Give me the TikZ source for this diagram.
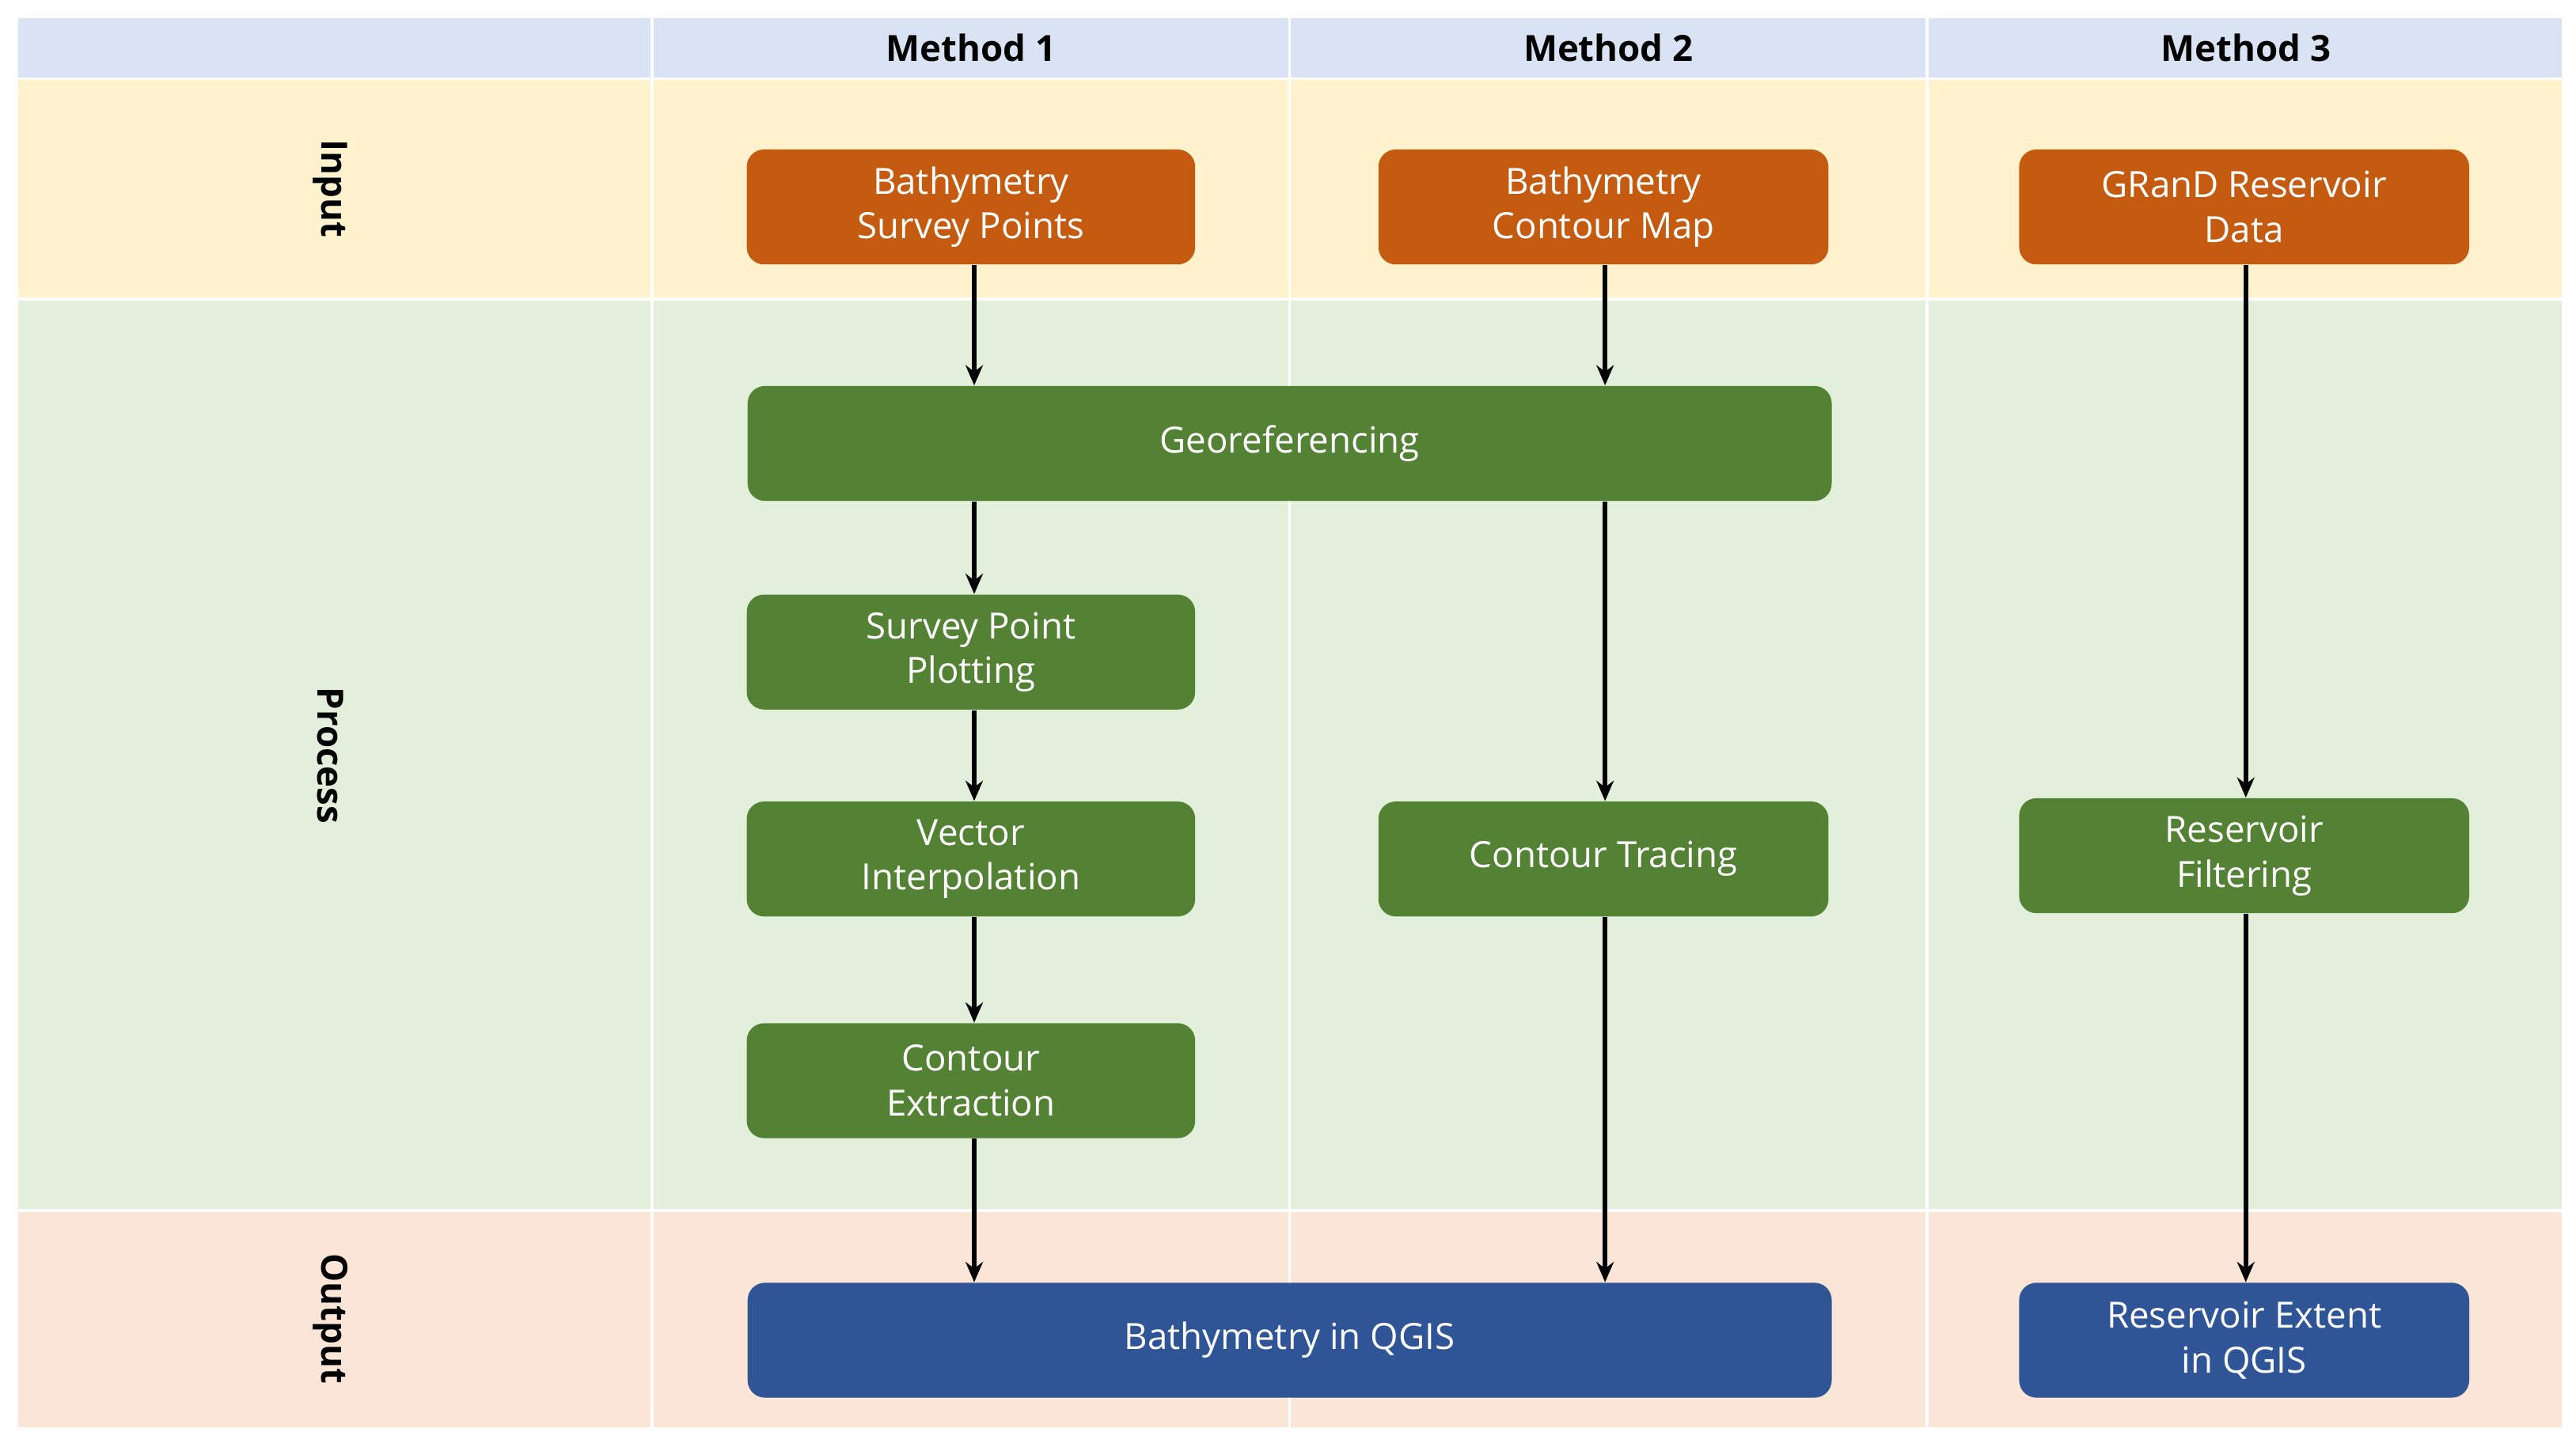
\documentclass[tikz,border=0pt]{standalone}
\usepackage{fontspec}
\setmainfont{Open Sans}
\usetikzlibrary{arrows.meta}
\definecolor{hdrblue}{HTML}{DAE3F3}
\definecolor{inyellow}{HTML}{FFF2CC}
\definecolor{procgreen}{HTML}{E2EFDA}
\definecolor{outpeach}{HTML}{FBE5D6}
\definecolor{boxorange}{HTML}{C55A11}
\definecolor{boxgreen}{HTML}{548235}
\definecolor{boxblue}{HTML}{2F5597}
\begin{document}
\begin{tikzpicture}[x=0.02cm,y=-0.02cm,
    flow/.style={-{Stealth[length=7pt,width=6pt]},line width=1.6pt,black},
    cell/.style={draw=white,line width=1pt},
    box/.style={rounded corners=6pt,text=white,align=center,inner sep=0pt,
        font=\fontsize{12.5}{15.5}\selectfont},
    input box/.style={box,fill=boxorange},
    process box/.style={box,fill=boxgreen},
    output box/.style={box,fill=boxblue},
    rowlabel/.style={rotate=-90,font=\bfseries\fontsize{12.5}{15}\selectfont},
    colhead/.style={font=\bfseries\fontsize{12.5}{15}\selectfont}]
    \useasboundingbox[fill=white] (0,0) rectangle (1568,883);

    % Background grid of lanes
    \foreach \xa/\xb in {10/397,397/785,785/1173,1173/1560}{
        \fill[hdrblue,cell] (\xa,10) rectangle (\xb,48);
        \fill[inyellow,cell] (\xa,48) rectangle (\xb,182);
        \fill[procgreen,cell] (\xa,182) rectangle (\xb,737);
        \fill[outpeach,cell] (\xa,737) rectangle (\xb,870);
    }

    % Column and row labels
    \node[colhead] (h1) at (591,29) {Method 1};
    \node[colhead] (h2) at (979,29) {Method 2};
    \node[colhead] (h3) at (1367,29) {Method 3};
    \node[rowlabel] (lin) at (201,115) {Input};
    \node[rowlabel] (lpr) at (201,460) {Process};
    \node[rowlabel] (lout) at (201,803) {Output};

    % Input boxes
    \node[input box,minimum width=5.46cm,minimum height=1.4cm] (sp) at (591,126) {Bathymetry\\Survey Points};
    \node[input box,minimum width=5.48cm,minimum height=1.4cm] (cm) at (976,126) {Bathymetry\\Contour Map};
    \node[input box,minimum width=5.48cm,minimum height=1.4cm] (gr) at (1366,126) {GRanD Reservoir\\Data};

    % Process boxes
    \node[process box,minimum width=13.2cm,minimum height=1.4cm] (geo) at (785,270) {Georeferencing};
    \node[process box,minimum width=5.46cm,minimum height=1.4cm] (spp) at (591,397) {Survey Point\\Plotting};
    \node[process box,minimum width=5.46cm,minimum height=1.4cm] (vi) at (591,523) {Vector\\Interpolation};
    \node[process box,minimum width=5.46cm,minimum height=1.4cm] (ce) at (591,658) {Contour\\Extraction};
    \node[process box,minimum width=5.48cm,minimum height=1.4cm] (ct) at (976,523) {Contour Tracing};
    \node[process box,minimum width=5.48cm,minimum height=1.4cm] (rf) at (1366,521) {Reservoir\\Filtering};

    % Output boxes
    \node[output box,minimum width=13.2cm,minimum height=1.4cm] (bq) at (785,816) {Bathymetry in QGIS};
    \node[output box,minimum width=5.48cm,minimum height=1.4cm] (rq) at (1366,816) {Reservoir Extent\\in QGIS};

    % Connectors
    \draw[flow] ([xshift=0.04cm]sp.south) -- ([xshift=0.04cm]sp.south |- geo.north);
    \draw[flow] ([xshift=0.02cm]cm.south) -- ([xshift=0.02cm]cm.south |- geo.north);
    \draw[flow] ([xshift=0.04cm]sp.south |- geo.south) -- ([xshift=0.04cm]spp.north);
    \draw[flow] ([xshift=0.02cm]cm.south |- geo.south) -- ([xshift=0.02cm]ct.north);
    \draw[flow] ([xshift=0.04cm]spp.south) -- ([xshift=0.04cm]vi.north);
    \draw[flow] ([xshift=0.04cm]vi.south) -- ([xshift=0.04cm]ce.north);
    \draw[flow] ([xshift=0.04cm]ce.south) -- ([xshift=0.04cm]ce.south |- bq.north);
    \draw[flow] ([xshift=0.02cm]ct.south) -- ([xshift=0.02cm]ct.south |- bq.north);
    \draw[flow] ([xshift=0.02cm]gr.south) -- ([xshift=0.02cm]rf.north);
    \draw[flow] ([xshift=0.02cm]rf.south) -- ([xshift=0.02cm]rq.north);
\end{tikzpicture}
\end{document}
